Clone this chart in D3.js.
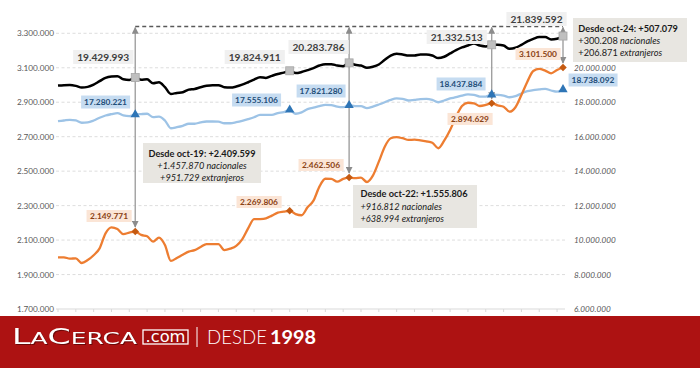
<!DOCTYPE html>
<html><head><meta charset="utf-8">
<script src="https://cdn.jsdelivr.net/npm/d3@7"></script>
<style>html,body{margin:0;padding:0;background:#fff;} svg{display:block;font-family:Lato,"Open Sans",sans-serif;}</style>
</head><body><svg id="c" width="700" height="368"></svg>
<script>
// ---------- DATA ----------
const months = ["sep-18","oct-18","nov-18","dic-18","ene-19","feb-19","mar-19","abr-19","may-19","jun-19","jul-19","ago-19","sep-19","oct-19","nov-19","dic-19","ene-20","feb-20","mar-20","abr-20","may-20","jun-20","jul-20","ago-20","sep-20","oct-20","nov-20","dic-20","ene-21","feb-21","mar-21","abr-21","may-21","jun-21","jul-21","ago-21","sep-21","oct-21","nov-21","dic-21","ene-22","feb-22","mar-22","abr-22","may-22","jun-22","jul-22","ago-22","sep-22","oct-22","nov-22","dic-22","ene-23","feb-23","mar-23","abr-23","may-23","jun-23","jul-23","ago-23","sep-23","oct-23","nov-23","dic-23","ene-24","feb-24","mar-24","abr-24","may-24","jun-24","jul-24","ago-24","sep-24","oct-24","nov-24","dic-24","ene-25","feb-25","mar-25","abr-25","may-25","jun-25","jul-25","ago-25","sep-25","oct-25"];

// Total afiliados (eje derecho)
const total = [18970000,18990000,19000000,18950000,18850000,18890000,19020000,19220000,19410000,19490000,19510000,19330000,19290000,19429993,19310000,19330000,19100000,19160000,18870000,18480000,18540000,18580000,18730000,18770000,18870000,18950000,18990000,18990000,18870000,18850000,18910000,19020000,19160000,19310000,19450000,19410000,19530000,19640000,19720000,19824911,19690000,19750000,19860000,19980000,20130000,20210000,20210000,20130000,20090000,20283786,20170000,20130000,20000000,20060000,20190000,20460000,20710000,20810000,20770000,20710000,20710000,20770000,20770000,20710000,20560000,20640000,20830000,21020000,21180000,21290000,21410000,21290000,21240000,21332513,21330000,21290000,21100000,21160000,21330000,21530000,21680000,21780000,21780000,21640000,21680000,21839592];

// Nacionales (eje derecho)
const nacionales = [16900000,16940000,16980000,16940000,16810000,16830000,16940000,17100000,17230000,17310000,17370000,17230000,17190000,17280221,17310000,17330000,17130000,17170000,16940000,16490000,16550000,16630000,16750000,16750000,16830000,16880000,16880000,16870000,16780000,16780000,16840000,16920000,17020000,17130000,17270000,17270000,17270000,17370000,17420000,17555106,17330000,17410000,17600000,17680000,17770000,17850000,17830000,17740000,17710000,17821280,17770000,17770000,17660000,17750000,17870000,18000000,18140000,18220000,18200000,18100000,18140000,18180000,18200000,18140000,18000000,18100000,18220000,18290000,18390000,18450000,18430000,18330000,18330000,18437884,18430000,18390000,18290000,18350000,18510000,18640000,18700000,18740000,18780000,18680000,18610000,18738092];

// Extranjeros (eje izquierdo)
const extranjeros = [2000000,2000000,1992000,1994000,1967000,1984000,2012000,2052000,2139000,2174000,2164000,2135000,2143000,2149771,2130000,2122000,2091000,2114000,2071000,1979000,1996000,2015000,2033000,2042000,2060000,2077000,2077000,2077000,2042000,2050000,2066000,2104000,2168000,2221000,2222000,2226000,2242000,2259000,2265000,2269806,2251000,2244000,2290000,2329000,2410000,2456000,2455000,2439000,2455000,2462506,2459000,2462000,2437000,2474000,2555000,2642000,2691000,2697000,2691000,2681000,2683000,2679000,2673000,2665000,2633000,2677000,2739000,2816000,2878000,2897000,2894000,2878000,2884000,2894629,2882000,2874000,2845000,2871000,2942000,3019000,3081000,3093000,3083000,3068000,3087000,3101500];

const leftTicks = [1700000,1900000,2100000,2300000,2500000,2700000,2900000,3100000,3300000];
const rightTicks = [6000000,8000000,10000000,12000000,14000000,16000000,18000000,20000000];

const markerMonths = ["oct-19","dic-21","oct-22","oct-24","oct-25"];
const arrowMonths = ["oct-19","oct-22","oct-24","oct-25"];

const notes = [
  {lines:[["Desde oct-19: +2.409.599"],["+1.457.870 nacionales"],["+951.729 extranjeros"]]},
  {lines:[["Desde oct-22: +1.555.806"],["+916.812 nacionales"],["+638.994 extranjeros"]]},
  {lines:[["Desde oct-24: +507.079"],["+300.208"," nacionales"],["+206.871"," extranjeros"]]}
];

// ---------- LAYOUT ----------
const svg = d3.select("#c");
const xL = 58, xR = 563, yTop = 33.3, yBot = 309;
const x = d3.scalePoint().domain(months).range([xL, xR]);
const yL = d3.scaleLinear().domain([1700000, 3300000]).range([yBot, yTop]);
const yR = d3.scaleLinear().domain([6000000, 22000000]).range([yBot, yTop]);
const loc = d3.formatLocale({decimal:",", thousands:".", grouping:[3], currency:["",""]});
const fmt = loc.format(",d");
const idx = m => months.indexOf(m);

// gridlines
svg.append("g").selectAll("line").data(leftTicks.slice(1)).join("line")
  .attr("x1", 56).attr("x2", 565).attr("y1", d => yL(d)).attr("y2", d => yL(d))
  .attr("stroke", "#d9d9d9").attr("stroke-width", 0.9).attr("stroke-dasharray", "3,2.5");
svg.append("line").attr("x1", 56).attr("x2", 565).attr("y1", yBot).attr("y2", yBot)
  .attr("stroke", "#d9d9d9").attr("stroke-width", 1);
svg.append("g").selectAll("line").data(months.filter((d, i) => i % 3 === 0)).join("line")
  .attr("x1", d => x(d)).attr("x2", d => x(d)).attr("y1", yBot).attr("y2", yBot + 3)
  .attr("stroke", "#d9d9d9");

// axes
const axL = svg.append("g").attr("transform", "translate(54,0)")
  .call(d3.axisLeft(yL).tickValues(leftTicks).tickFormat(fmt).tickSize(0).tickPadding(0));
axL.select(".domain").remove();
axL.selectAll("text").attr("font-family", "Lato").attr("font-size", 8.2).attr("fill", "#595959");
const axR = svg.append("g").attr("transform", "translate(574,0)")
  .call(d3.axisRight(yR).tickValues(rightTicks).tickFormat(fmt).tickSize(0).tickPadding(0));
axR.select(".domain").remove();
axR.selectAll("text").attr("font-family", "Lato").attr("font-size", 8.2).attr("font-style", "italic").attr("fill", "#595959");

// lines
const mk = (y) => d3.line().x((d, i) => x(months[i])).y(d => y(d)).curve(d3.curveMonotoneX);
svg.append("path").attr("d", mk(yR)(nacionales)).attr("fill", "none").attr("stroke", "#9dc3e6").attr("stroke-width", 2.3).attr("stroke-linejoin", "round");
svg.append("path").attr("d", mk(yR)(total)).attr("fill", "none").attr("stroke", "#000").attr("stroke-width", 2.5).attr("stroke-linejoin", "round");
svg.append("path").attr("d", mk(yL)(extranjeros)).attr("fill", "none").attr("stroke", "#ed7d31").attr("stroke-width", 2.3).attr("stroke-linejoin", "round");

// dashed reference line
const refY = 26.5;
svg.append("line").attr("x1", x("oct-19")).attr("x2", x("oct-25")).attr("y1", refY).attr("y2", refY)
  .attr("stroke", "#595959").attr("stroke-width", 1.3).attr("stroke-dasharray", "4,3");

// arrows
const defs = svg.append("defs");
defs.append("marker").attr("id", "ah").attr("viewBox", "0 0 10 10").attr("refX", 9).attr("refY", 5)
  .attr("markerWidth", 5).attr("markerHeight", 5).attr("orient", "auto-start-reverse").attr("markerUnits", "strokeWidth")
  .append("path").attr("d", "M0,0 L10,5 L0,10 z").attr("fill", "#8c8c8c");
svg.append("g").selectAll("line").data(arrowMonths).join("line")
  .attr("x1", d => x(d)).attr("x2", d => x(d))
  .attr("y1", refY + 1).attr("y2", d => yL(extranjeros[idx(d)]) - 4.5)
  .attr("stroke", "#a0a0a0").attr("stroke-width", 1.4)
  .attr("marker-start", "url(#ah)").attr("marker-end", "url(#ah)");

// markers
const mg = svg.append("g");
mg.selectAll("rect").data(markerMonths).join("rect")
  .attr("x", d => x(d) - 4).attr("y", d => yR(total[idx(d)]) - 4).attr("width", 8).attr("height", 8)
  .attr("fill", "#bfbfbf").attr("stroke", "#a6a6a6").attr("stroke-width", 0.8);
mg.selectAll("path.tri").data(markerMonths).join("path").attr("class", "tri")
  .attr("transform", d => `translate(${x(d)},${yR(nacionales[idx(d)])})`)
  .attr("d", d3.symbol(d3.symbolTriangle, 38)).attr("fill", "#2e75b6");
mg.selectAll("path.dia").data(markerMonths).join("path").attr("class", "dia")
  .attr("transform", d => `translate(${x(d)},${yL(extranjeros[idx(d)])})`)
  .attr("d", d3.symbol(d3.symbolDiamond2, 36)).attr("fill", "#c55a11");

// value labels
function tag(cx, cy, txt, o) {
  const g = svg.append("g");
  const t = g.append("text").attr("x", cx).attr("y", cy).attr("text-anchor", "middle").attr("dominant-baseline", "central")
    .attr("font-size", o.size).attr("font-weight", "bold").attr("fill", o.color).text(txt);
  const b = t.node().getBBox();
  g.insert("rect", "text").attr("x", b.x - o.px).attr("y", cy - o.h / 2).attr("width", b.width + 2 * o.px).attr("height", o.h).attr("fill", o.bg);
}
const totOff = [[-32,-20.6],[-35,-13.8],[-30.6,-15.9],[-35,-7.8],[-26.5,-17.1]];
const nacOff = [[-29.7,-12.6],[-33.2,-9.9],[-28.1,-14.3],[-30.7,-10.7],[30,-9.5]];
const extOff = [[-26.2,-15.5],[-30.7,-8.8],[-28.1,-12.6],[-21.7,15.8],[-25,-13.5]];
markerMonths.forEach((m, k) => {
  const i = idx(m);
  tag(x(m) + totOff[k][0], yR(total[i]) + totOff[k][1], fmt(total[i]), {size: 10.2, color: "#404040", bg: "#f0f0f0", px: 4, h: 14});
  tag(x(m) + nacOff[k][0], yR(nacionales[i]) + nacOff[k][1], fmt(nacionales[i]), {size: 8.4, color: "#1f4e79", bg: "#c6dcf1", px: 3, h: 13});
  tag(x(m) + extOff[k][0], yL(extranjeros[i]) + extOff[k][1], fmt(extranjeros[i]), {size: 8.4, color: "#8a4214", bg: "#fbe5d6", px: 3.5, h: 12});
});

// annotation boxes
const boxes = [
  {x: 143, y: 143, w: 118, h: 40, tx: 202, anchor: "middle", base: [157, 169, 180.5], italicNum: true},
  {x: 353, y: 185, w: 124, h: 43, tx: 360.5, anchor: "start", base: [197, 209.5, 221.5], italicNum: true},
  {x: 573, y: 18, w: 114, h: 44, tx: 578.3, anchor: "start", base: [31.5, 44, 55.5], italicNum: false}
];
boxes.forEach((b, k) => {
  const g = svg.append("g");
  g.append("rect").attr("x", b.x).attr("y", b.y).attr("width", b.w).attr("height", b.h).attr("fill", "#e8e6e1");
  notes[k].lines.forEach((ln, j) => {
    const t = g.append("text").attr("x", b.tx).attr("y", b.base[j]).attr("text-anchor", b.anchor)
      .attr("font-size", 9.2).attr("fill", "#1a1a1a");
    if (j === 0) { t.attr("font-weight", "bold").text(ln[0]); return; }
    if (ln.length === 1) { t.attr("font-style", "italic").text(ln[0]); return; }
    t.append("tspan").attr("font-style", b.italicNum ? "italic" : "normal").text(ln[0]);
    t.append("tspan").attr("font-style", "italic").text(ln[1]);
  });
});

// ---------- BANNER ----------
const bn = svg.append("g");
bn.append("rect").attr("x", 0).attr("y", 316).attr("width", 700).attr("height", 52).attr("fill", "#ad1212");
const logo = bn.append("text").attr("x", 12).attr("y", 343.5).attr("fill", "#fff")
  .attr("font-family", "DejaVu Sans").attr("textLength", 125).attr("lengthAdjust", "spacingAndGlyphs")
  .style("filter", "drop-shadow(1px 1px 0 rgba(60,0,0,0.6))");
[["L",22],["A",16.5],["C",22],["ERCA",16.5]].forEach(([s, f]) => logo.append("tspan").attr("font-size", f).text(s));
bn.append("rect").attr("x", 143).attr("y", 330).attr("width", 45).attr("height", 14).attr("fill", "#a00d0d").attr("stroke", "#fff").attr("stroke-width", 1.3);
bn.append("text").attr("x", 145.5).attr("y", 341.5).attr("fill", "#fff").attr("font-family", "DejaVu Sans")
  .attr("font-size", 15).attr("textLength", 40).attr("lengthAdjust", "spacingAndGlyphs").text(".com");
bn.append("line").attr("x1", 197).attr("x2", 197).attr("y1", 327).attr("y2", 347).attr("stroke", "#fff").attr("stroke-width", 1);
bn.append("text").attr("x", 207).attr("y", 343.5).attr("fill", "#fff").attr("font-family", "Lato").attr("font-weight", 300)
  .attr("font-size", 19.5).attr("textLength", 60).attr("lengthAdjust", "spacingAndGlyphs").text("DESDE");
bn.append("text").attr("x", 270).attr("y", 343.5).attr("fill", "#fff").attr("font-family", "Lato").attr("font-weight", "bold")
  .attr("font-size", 19.5).attr("textLength", 46).attr("lengthAdjust", "spacingAndGlyphs").text("1998");
</script></body></html>
